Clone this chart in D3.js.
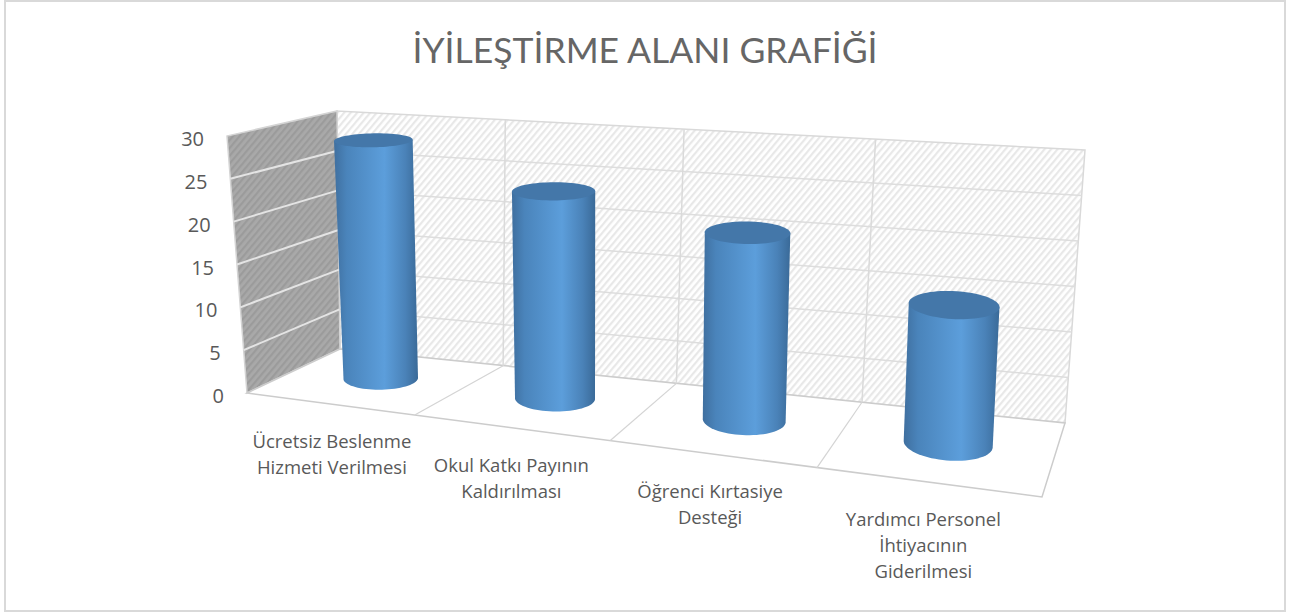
<!DOCTYPE html>
<html>
<head>
<meta charset="utf-8">
<script src="https://cdn.jsdelivr.net/npm/d3@7"></script>
<style>
  html, body { margin: 0; padding: 0; background: #fff; }
  svg { display: block; }
</style>
</head>
<body>
<svg id="chart" width="1296" height="615"></svg>
<script>
const chartTitle = 'İYİLEŞTİRME ALANI GRAFİĞİ';
const categories = ['Ücretsiz Beslenme Hizmeti Verilmesi', 'Okul Katkı Payının Kaldırılması', 'Öğrenci Kırtasiye Desteği', 'Yardımcı Personel İhtiyacının Giderilmesi'];
const categoryLines = [
  ['Ücretsiz Beslenme', 'Hizmeti Verilmesi'],
  ['Okul Katkı Payının', 'Kaldırılması'],
  ['Öğrenci Kırtasiye', 'Desteği'],
  ['Yardımcı Personel', 'İhtiyacının', 'Giderilmesi']
];
const values = [28.5, 24, 21, 15];
const yTicks = [0, 5, 10, 15, 20, 25, 30];

const svg = d3.select('#chart');
const font = '"Open Sans", "Noto Sans", sans-serif';
const titleFont = 'Lato, "Open Sans", sans-serif';

// corners of the 3d box as seen on screen
const floorFL = [247, 393], floorBL = [340, 349], floorBR = [1065, 423], floorFR = [1042, 497];
const topFL = [227, 136], topBL = [337, 111], topBR = [1085, 150], topFR = [1052, 202];

const lerp = (a, b, t) => [a[0] + (b[0] - a[0]) * t, a[1] + (b[1] - a[1]) * t];

// perspective squeezes the categories towards the far (left) side
const uSteps = [0, 0.25, 0.5, 0.75, 1];
const frontFrac = d3.scaleLinear().domain(uSteps).range([0, 0.211, 0.457, 0.717, 1]);
const backFrac = d3.scaleLinear().domain(uSteps).range([0, 0.225, 0.464, 0.72, 1]);

// u along categories, w front to back
const floorAt = (u, w) => lerp(lerp(floorFL, floorFR, frontFrac(u)), lerp(floorBL, floorBR, backFrac(u)), w);
const ceilAt = (u, w) => lerp(lerp(topFL, topFR, frontFrac(u)), lerp(topBL, topBR, backFrac(u)), w);

const xScale = d3.scaleBand().domain(categories).range([0, 1]).paddingInner(0.585).paddingOuter(0.2925);
const xEdge = d3.scaleBand().domain(categories).range([0, 1]);
const yScale = d3.scaleLinear().domain([0, 30]).range([0, 1]);

const project = (u, w, value) => lerp(floorAt(u, w), ceilAt(u, w), yScale(value));

const poly = pts => d3.line()(pts) + 'Z';
const seg = (a, b) => d3.line()([a, b]);

// hatching
const defs = svg.append('defs');
function hatch(id, bg, fg) {
  const p = defs.append('pattern').attr('id', id).attr('patternUnits', 'userSpaceOnUse')
    .attr('width', 5).attr('height', 5).attr('patternTransform', 'rotate(40)');
  p.append('rect').attr('width', 5).attr('height', 5).attr('fill', bg);
  p.append('rect').attr('width', 2.2).attr('height', 5).attr('fill', fg);
}
hatch('hatchBack', '#ffffff', '#e8e8e8');
hatch('hatchSide', '#a9a9a9', '#9b9b9b');

// chart frame
svg.append('rect').attr('x', 5).attr('y', 1).attr('width', 1280).attr('height', 610)
  .attr('fill', '#fff').attr('stroke', '#d9d9d9').attr('stroke-width', 2);

// title
svg.append('text').attr('x', 645).attr('y', 63).attr('text-anchor', 'middle')
  .attr('font-family', titleFont).attr('font-weight', 400).attr('font-size', 35.5).attr('fill', '#666666')
  .text(chartTitle);

// walls
svg.append('path').attr('d', poly([floorBL, floorBR, topBR, topBL]))
  .attr('fill', 'url(#hatchBack)').attr('stroke', '#d9d9d9').attr('stroke-width', 1.5);
svg.append('path').attr('d', poly([floorFL, floorBL, topBL, topFL]))
  .attr('fill', 'url(#hatchSide)').attr('stroke', '#d4d4d4').attr('stroke-width', 1.5);
svg.append('path').attr('d', poly([floorFL, floorFR, floorBR, floorBL]))
  .attr('fill', '#fff').attr('stroke', '#cccccc').attr('stroke-width', 1.5);

// gridlines
const grid = svg.append('g').attr('fill', 'none');
yTicks.slice(1, -1).forEach(t => {
  const v = yScale(t);
  grid.append('path').attr('d', seg(lerp(floorFL, topFL, v), lerp(floorBL, topBL, v)))
    .attr('stroke', '#e4e4e4').attr('stroke-width', 2);
  grid.append('path').attr('d', seg(lerp(floorBL, topBL, v), lerp(floorBR, topBR, v)))
    .attr('stroke', '#dddddd').attr('stroke-width', 1.5);
});
categories.slice(1).forEach(c => {
  const u = xEdge(c);
  grid.append('path').attr('d', seg(floorAt(u, 1), ceilAt(u, 1)))
    .attr('stroke', '#dadada').attr('stroke-width', 1.5);
  grid.append('path').attr('d', seg(floorAt(u, 0), floorAt(u, 1)))
    .attr('stroke', '#d4d4d4').attr('stroke-width', 1.2);
});

// y tick labels follow the slanted front edge
svg.append('g').selectAll('text').data(yTicks).join('text')
  .attr('x', d => lerp(floorFL, topFL, yScale(d))[0] - 23)
  .attr('y', d => lerp(floorFL, topFL, yScale(d))[1] + 10)
  .attr('text-anchor', 'end')
  .attr('font-family', font).attr('font-size', 20).attr('fill', '#595959')
  .text(d => d);

// category labels
const labels = svg.append('g').selectAll('text').data(categories).join('text')
  .attr('text-anchor', 'middle')
  .attr('font-family', font).attr('font-size', 18.5).attr('fill', '#595959');
labels.each(function (c, i) {
  const p = floorAt(xEdge(c) + xEdge.bandwidth() / 2, 0);
  d3.select(this).selectAll('tspan').data(categoryLines[i]).join('tspan')
    .attr('x', p[0] * 0.988 + 5)
    .attr('y', (d, j) => p[1] + 44 + j * 26)
    .text(d => d);
});

// cylinders
const angles = d3.range(0, 360, 5).map(a => a * Math.PI / 180);
const depthCenter = 0.55;
const depthRadius = 0.23;
const shear = 0.7; // keeps the ellipses from tilting along the depth lines

categories.forEach((c, i) => {
  const cx = xScale(c) + xScale.bandwidth() / 2, r = xScale.bandwidth() / 2;

  const ring = value => {
    const o = project(cx, depthCenter, value);
    const a1 = project(cx + r, depthCenter, value), a0 = project(cx - r, depthCenter, value);
    const b1 = project(cx, depthCenter - depthRadius, value), b0 = project(cx, depthCenter + depthRadius, value);
    const ax = (a1[0] - a0[0]) / 2, ay = (a1[1] - a0[1]) / 2;
    const bx = shear * (b1[0] - b0[0]) / 2, by = (b1[1] - b0[1]) / 2;
    return angles.map(t => [o[0] + ax * Math.cos(t) + bx * Math.sin(t), o[1] + ay * Math.cos(t) + by * Math.sin(t)]);
  };

  const top = ring(values[i]), bottom = ring(0);

  // silhouette: both tangent points on top, then the near side of the bottom ring
  const tl = d3.least(top, p => p[0]), tr = d3.greatest(top, p => p[0]);
  const bl = d3.least(bottom, p => p[0]);
  const start = bottom.indexOf(d3.greatest(bottom, p => p[0]));
  const lower = [];
  for (let k = start; ; k = (k + 1) % bottom.length) {
    lower.push(bottom[k]);
    if (bottom[k] === bl) break;
  }
  const body = [tl, tr].concat(lower);

  const xs = body.map(p => p[0]);
  const gradId = 'cyl' + i;
  const grad = defs.append('linearGradient').attr('id', gradId)
    .attr('gradientUnits', 'userSpaceOnUse')
    .attr('x1', d3.min(xs)).attr('x2', d3.max(xs)).attr('y1', 0).attr('y2', 0);
  [[0, '#3f6f9f'], [0.15, '#4a84bb'], [0.6, '#5c9edb'], [0.85, '#4a82b8'], [1, '#3a6a98']]
    .forEach(s => grad.append('stop').attr('offset', s[0]).attr('stop-color', s[1]));

  svg.append('path').attr('d', poly(body)).attr('fill', `url(#${gradId})`);
  svg.append('path').attr('d', poly(top)).attr('fill', '#4477a9');
});
</script>
</body>
</html>
